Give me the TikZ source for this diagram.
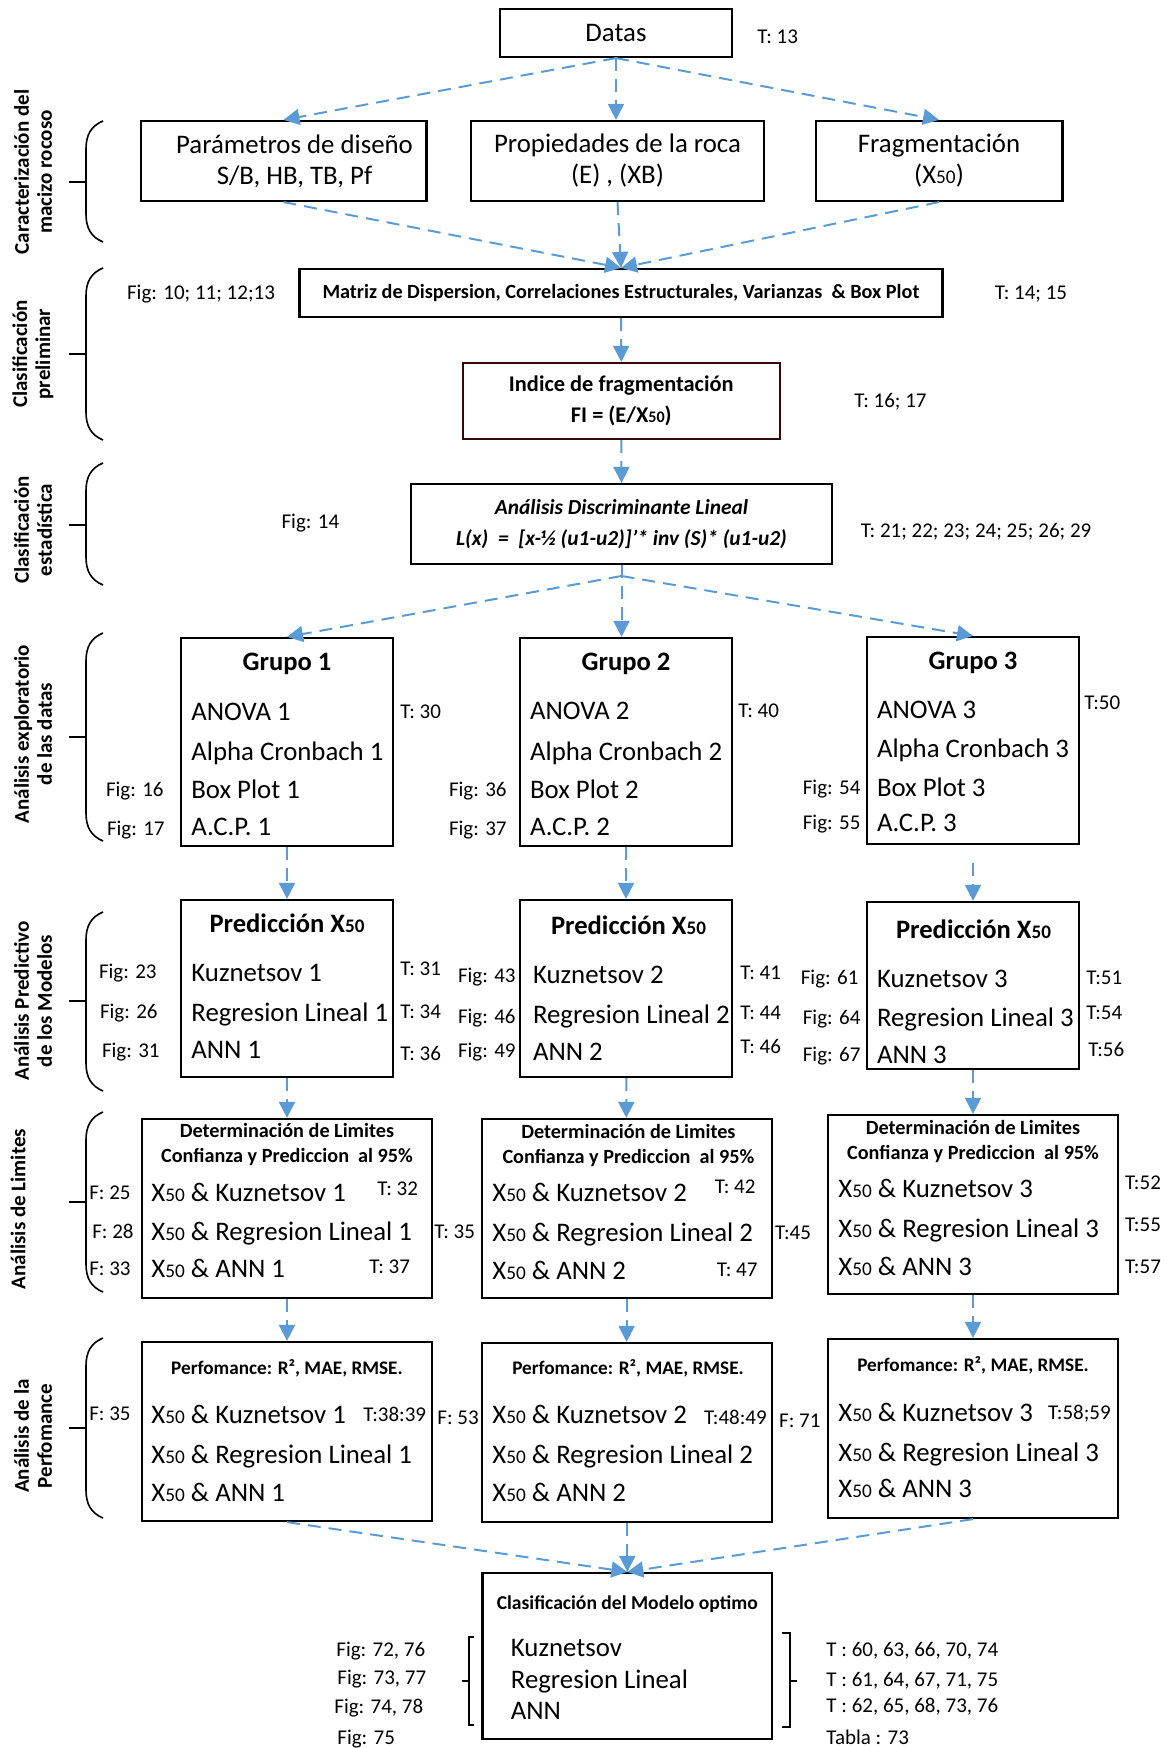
\documentclass[tikz,border=0pt]{standalone}
\usepackage{fontspec}
\setmainfont{Carlito}
\usepackage{graphicx}
\usepackage{tikz}
\usetikzlibrary{arrows.meta}
\definecolor{flecha}{RGB}{91,155,213}
\definecolor{borde}{RGB}{50,8,8}
\newcommand{\Xc}{X\scalebox{0.72}{50}}

\begin{document}
\begin{tikzpicture}[
  x=0.5pt, y=-0.5pt,
  >={Triangle[length=8pt,width=8pt]},
  caja/.style={draw, line width=1.1pt, inner sep=0pt, align=center, font=\fontsize{13.4}{15.5}\selectfont},
  titulo/.style={inner sep=0pt, font=\bfseries\fontsize{13.3}{16}\selectfont, text height=10.4pt, text depth=1.9pt},
  subtit/.style={inner sep=0pt, align=center, font=\bfseries\fontsize{10.1}{12.5}\selectfont},
  linea/.style={anchor=west, inner sep=0pt, font=\fontsize{13.4}{16}\selectfont, text height=10.5pt, text depth=1.9pt},
  nota/.style={inner sep=0pt, font=\fontsize{10.5}{12.6}\selectfont, text height=8.2pt, text depth=1.5pt},
  fase/.style={rotate=90, inner sep=0pt, align=center, font=\bfseries\fontsize{10.5}{11.5}\selectfont},
  flujo/.style={->, draw=flecha, line width=1pt, dash pattern=on 6.5pt off 4pt},
  llave/.style={line width=0.8pt}
]
\useasboundingbox (0,0) rectangle (1173,1748);

% entrada y caracterizacion
\node[caja, minimum width=116.3pt, minimum height=24pt] (datas) at (616,33) {Datas};
\node[caja, minimum width=142.9pt, minimum height=40pt] (param) at (283.5,161) {};
\node[align=center, inner sep=0pt, font=\fontsize{13.4}{15.5}\selectfont] (paramtxt) at (294.5,161) {Parámetros de diseño\\S/B, HB, TB, Pf};
\node[caja, minimum width=146.2pt, minimum height=40pt] (props) at (617.5,161) {Propiedades de la roca\\(E) , (XB)};
\node[caja, minimum width=123.4pt, minimum height=40pt] (frag) at (939,161) {Fragmentación\\(\Xc)};
\node[caja, minimum width=321.5pt, minimum height=24pt, font=\bfseries\fontsize{10.1}{12}\selectfont] (matriz) at (621,293) {Matriz de Dispersion, Correlaciones Estructurales, Varianzas~ \& Box Plot};
\node[caja, draw=borde, minimum width=158.7pt, minimum height=38pt, font=\bfseries\fontsize{11.2}{15.5}\selectfont] (indice) at (621.3,401) {Indice de fragmentación\\FI = (E/\Xc)};
\node[caja, minimum width=210.5pt, minimum height=40pt, font=\bfseries\itshape\fontsize{10.7}{15.5}\selectfont] (lda) at (621.5,524) {Análisis Discriminante Lineal\\L(x)~ =~ [x-½ (u1-u2)]’* inv (S)* (u1-u2)};
\coordinate (reparto) at (621.5,576);

\node[nota, anchor=west] (t13) at (757,37) {T: 13};
\node[nota] (figmat) at (201,293) {Fig: 10; 11; 12;13};
\node[nota] (tmat) at (1031,293) {T: 14; 15};
\node[nota] (tind) at (890.5,401) {T: 16; 17};
\node[nota] (figlda) at (310.4,522) {Fig: 14};
\node[nota] (tlda) at (976,531) {T: 21; 22; 23; 24; 25; 26; 29};

% grupos
\node[caja, minimum width=106pt, minimum height=104pt] (g1) at (287,742) {};
\node[caja, minimum width=106.3pt, minimum height=104pt] (g2) at (626,742) {};
\node[caja, minimum width=106.3pt, minimum height=103.5pt] (g3) at (973,740.5) {};
\node[titulo] (g1t) at (287,662) {Grupo 1};
\node[titulo] (g2t) at (626,662) {Grupo 2};
\node[titulo] (g3t) at (973,661) {Grupo 3};
\node[linea] (g1a) at (191,712) {ANOVA 1};
\node[linea] (g1b) at (191,752) {Alpha Cronbach 1};
\node[linea] (g1c) at (191,790) {Box Plot 1};
\node[linea] (g1d) at (191,827) {A.C.P. 1};
\node[linea] (g2a) at (529.7,711) {ANOVA 2};
\node[linea] (g2b) at (529.7,752) {Alpha Cronbach 2};
\node[linea] (g2c) at (529.7,790) {Box Plot 2};
\node[linea] (g2d) at (529.7,827) {A.C.P. 2};
\node[linea] (g3a) at (876.6,710) {ANOVA 3};
\node[linea] (g3b) at (876.6,749) {Alpha Cronbach 3};
\node[linea] (g3c) at (876.6,788) {Box Plot 3};
\node[linea] (g3d) at (876.6,823) {A.C.P. 3};
\node[nota, anchor=west] (t30) at (400,712) {T: 30};
\node[nota, anchor=west] (t40) at (738,711) {T: 40};
\node[nota, anchor=west] (t50) at (1084,703) {T:50};
\node[nota, anchor=east] (f16) at (164,790) {Fig: 16};
\node[nota, anchor=east] (f17) at (165,829) {Fig: 17};
\node[nota, anchor=east] (f36) at (507,790) {Fig: 36};
\node[nota, anchor=east] (f37) at (507,829) {Fig: 37};
\node[nota, anchor=east] (f54) at (860.8,788) {Fig: 54};
\node[nota, anchor=east] (f55) at (860.8,823) {Fig: 55};

% prediccion
\node[caja, minimum width=106pt, minimum height=88.5pt] (p1) at (287,988.5) {};
\node[caja, minimum width=106.3pt, minimum height=88.5pt] (p2) at (626,988.5) {};
\node[caja, minimum width=106.3pt, minimum height=83.5pt] (p3) at (973,985.5) {};
\node[titulo] (p1t) at (287,924) {Predicción \Xc};
\node[titulo] (p2t) at (628.5,926) {Predicción \Xc};
\node[titulo] (p3t) at (973.5,930) {Predicción \Xc};
\node[linea] (p1a) at (191,973) {Kuznetsov 1};
\node[linea] (p1b) at (191,1013) {Regresion Lineal 1};
\node[linea] (p1c) at (191,1050) {ANN 1};
\node[linea] (p2a) at (532.6,975) {Kuznetsov 2};
\node[linea] (p2b) at (532.6,1015) {Regresion Lineal 2};
\node[linea] (p2c) at (532.6,1052) {ANN 2};
\node[linea] (p3a) at (876.6,979) {Kuznetsov 3};
\node[linea] (p3b) at (876.6,1018) {Regresion Lineal 3};
\node[linea] (p3c) at (876.6,1055) {ANN 3};
\node[nota, anchor=east] (f23) at (157,972) {Fig: 23};
\node[nota, anchor=east] (f26) at (158,1012) {Fig: 26};
\node[nota, anchor=east] (f31) at (160,1051) {Fig: 31};
\node[nota, anchor=west] (t31) at (400,969) {T: 31};
\node[nota, anchor=west] (t34) at (400,1012) {T: 34};
\node[nota, anchor=west] (t36) at (400,1054) {T: 36};
\node[nota, anchor=east] (f43) at (516,976) {Fig: 43};
\node[nota, anchor=east] (f46) at (516,1017) {Fig: 46};
\node[nota, anchor=east] (f49) at (516,1051) {Fig: 49};
\node[nota, anchor=west] (t41) at (740,973) {T: 41};
\node[nota, anchor=west] (t44) at (740,1013) {T: 44};
\node[nota, anchor=west] (t46) at (740,1047) {T: 46};
\node[nota, anchor=east] (f61) at (858.8,978) {Fig: 61};
\node[nota, anchor=east] (f64) at (860.8,1018) {Fig: 64};
\node[nota, anchor=east] (f67) at (860.8,1055) {Fig: 67};
\node[nota, anchor=west] (t51) at (1086,978) {T:51};
\node[nota, anchor=west] (t54) at (1086,1013) {T:54};
\node[nota, anchor=west] (t56) at (1088,1050) {T:56};

% limites
\node[caja, minimum width=145pt, minimum height=89.5pt] (d1) at (287,1208.5) {};
\node[caja, minimum width=145pt, minimum height=89.5pt] (d2) at (626.6,1208.5) {};
\node[caja, minimum width=144.8pt, minimum height=89.5pt] (d3) at (973,1204.5) {};
\node[subtit] (d1t) at (287,1144.5) {Determinación de Limites\\Confianza y Prediccion~ al 95\%};
\node[subtit] (d2t) at (628.4,1145) {Determinación de Limites\\Confianza y Prediccion~ al 95\%};
\node[subtit] (d3t) at (973,1141) {Determinación de Limites\\Confianza y Prediccion~ al 95\%};
\node[linea] (d1a) at (151,1193) {\Xc{} \& Kuznetsov 1};
\node[linea] (d1b) at (151,1232) {\Xc{} \& Regresion Lineal 1};
\node[linea] (d1c) at (151,1269) {\Xc{} \& ANN 1};
\node[linea] (d2a) at (492,1193) {\Xc{} \& Kuznetsov 2};
\node[linea] (d2b) at (492,1233) {\Xc{} \& Regresion Lineal 2};
\node[linea] (d2c) at (492,1271) {\Xc{} \& ANN 2};
\node[linea] (d3a) at (838,1189) {\Xc{} \& Kuznetsov 3};
\node[linea] (d3b) at (838,1229) {\Xc{} \& Regresion Lineal 3};
\node[linea] (d3c) at (838,1267) {\Xc{} \& ANN 3};
\node[nota, anchor=east] (f25) at (131,1193) {F: 25};
\node[nota, anchor=east] (f28) at (134,1232) {F: 28};
\node[nota, anchor=east] (f33) at (131,1269) {F: 33};
\node[nota, anchor=west] (t32) at (377,1189) {T: 32};
\node[nota, anchor=west] (t37) at (369,1267) {T: 37};
\node[nota, anchor=west] (t35) at (434,1232) {T: 35};
\node[nota, anchor=west] (t42) at (714.5,1187) {T: 42};
\node[nota, anchor=west] (t45) at (774.8,1233) {T:45};
\node[nota, anchor=west] (t47) at (716.5,1270) {T: 47};
\node[nota, anchor=west] (t52) at (1124.7,1183) {T:52};
\node[nota, anchor=west] (t55) at (1124.7,1225) {T:55};
\node[nota, anchor=west] (t57) at (1124.7,1267) {T:57};

% perfomance
\node[caja, minimum width=145pt, minimum height=89.5pt] (e1) at (287,1431.5) {};
\node[caja, minimum width=145pt, minimum height=89.5pt] (e2) at (626.6,1432.5) {};
\node[caja, minimum width=144.8pt, minimum height=89.5pt] (e3) at (973,1428.5) {};
\node[subtit, font=\bfseries\fontsize{9.6}{12}\selectfont, text height=7.8pt, text depth=1.6pt] (e1t) at (287,1368) {Perfomance: R², MAE, RMSE.};
\node[subtit, font=\bfseries\fontsize{9.6}{12}\selectfont, text height=7.8pt, text depth=1.6pt] (e2t) at (628,1368) {Perfomance: R², MAE, RMSE.};
\node[subtit, font=\bfseries\fontsize{9.6}{12}\selectfont, text height=7.8pt, text depth=1.6pt] (e3t) at (973,1365) {Perfomance: R², MAE, RMSE.};
\node[linea] (e1a) at (151,1415) {\Xc{} \& Kuznetsov 1};
\node[linea] (e1b) at (151,1455) {\Xc{} \& Regresion Lineal 1};
\node[linea] (e1c) at (151,1493) {\Xc{} \& ANN 1};
\node[linea] (e2a) at (492,1415) {\Xc{} \& Kuznetsov 2};
\node[linea] (e2b) at (492,1455) {\Xc{} \& Regresion Lineal 2};
\node[linea] (e2c) at (492,1493) {\Xc{} \& ANN 2};
\node[linea] (e3a) at (838,1413) {\Xc{} \& Kuznetsov 3};
\node[linea] (e3b) at (838,1453) {\Xc{} \& Regresion Lineal 3};
\node[linea] (e3c) at (838,1489) {\Xc{} \& ANN 3};
\node[nota, anchor=east] (f35) at (131,1414) {F: 35};
\node[nota, anchor=west] (t38) at (363,1415) {T:38:39};
\node[nota, anchor=west] (f53) at (437,1418) {F: 53};
\node[nota, anchor=west] (t48) at (703.6,1418) {T:48:49};
\node[nota, anchor=west] (f71) at (778.7,1421) {F: 71};
\node[nota, anchor=west] (t58) at (1047.6,1413) {T:58;59};

% modelo optimo
\node[caja, minimum width=144.8pt, minimum height=83pt] (optimo) at (627.3,1656) {};
\node[subtit, font=\bfseries\fontsize{9.8}{12}\selectfont, text height=7.9pt, text depth=1.6pt] (optt) at (627.3,1603) {Clasificación del Modelo optimo};
\node[linea] (opta) at (510.5,1648) {Kuznetsov};
\node[linea] (optb) at (510.5,1680) {Regresion Lineal};
\node[linea] (optc) at (510.5,1711) {ANN};
\node[nota, anchor=west] (f72) at (336,1650) {Fig: 72, 76};
\node[nota, anchor=west] (f73) at (337,1678) {Fig: 73, 77};
\node[nota, anchor=west] (f74) at (334,1707) {Fig: 74, 78};
\node[nota, anchor=west] (f75) at (337,1738) {Fig: 75};
\node[nota, anchor=west] (t60) at (826,1650) {T : 60, 63, 66, 70, 74};
\node[nota, anchor=west] (t61) at (826,1680) {T : 61, 64, 67, 71, 75};
\node[nota, anchor=west] (t62) at (826,1706) {T : 62, 65, 68, 73, 76};
\node[nota, anchor=west] (tabla) at (826,1738) {Tabla : 73};
\draw[llave] (474,1637) -- (469,1637) -- (469,1725) -- (474,1725) (462,1681) -- (469,1681);
\draw[llave] (782,1633) -- (790,1633) -- (790,1727) -- (782,1727) (790,1681) -- (797,1681);

% fases
\foreach \ya/\yb/\ym in {121/242/182, 268/440/354, 463/585/525, 633/841/737, 912/1091/1001, 1112/1292/1202, 1338/1518/1428}
  \draw[llave] (103,\ya) .. controls (91,\ya+5) and (86,\ya+14) .. (86,\ya+28) -- (86,\yb-28) .. controls (86,\yb-14) and (91,\yb-5) .. (103,\yb) (69,\ym) -- (86,\ym);
\node[fase] (fase1) at (33,172) {Caracterización del\\macizo rocoso};
\node[fase] (fase2) at (33,354) {Clasificación\\preliminar};
\node[fase] (fase3) at (33,530) {Clasificación\\estadística};
\node[fase] (fase4) at (33,734) {Análisis exploratorio\\de las datas};
\node[fase] (fase5) at (33,1001) {Análisis Predictivo\\de los Modelos};
\node[fase] (fase6) at (18,1209) {Análisis de Limites};
\node[fase] (fase7) at (33,1436) {Análisis de la\\Perfomance};

% flechas
\draw[flujo] (datas.south) -- (param.north);
\draw[flujo] (datas.south) -- (datas.south |- props.north);
\draw[flujo] (datas.south) -- (frag.north);
\draw[flujo] (param.south) -- (matriz.north);
\draw[flujo] (props.south) -- (matriz.north);
\draw[flujo] (frag.south) -- (matriz.north);
\draw[flujo] (matriz.south) -- (indice.north);
\draw[flujo] (indice.south) -- (lda.north);
\draw[flujo] (lda.south) -- (lda.south |- g2.north);
\draw[flujo] (reparto) -- (g1.north);
\draw[flujo] (reparto) -- (g3.north);
\draw[flujo] (g1) -- (p1);
\draw[flujo] (g2) -- (p2);
\draw[flujo, shorten <=9pt] (g3) -- (p3);
\draw[flujo] (p1) -- (d1);
\draw[flujo] (p2) -- (d2);
\draw[flujo] (p3) -- (d3);
\draw[flujo] (d1) -- (e1);
\draw[flujo] (d2) -- (e2);
\draw[flujo] (d3) -- (e3);
\draw[flujo] (e1.south) -- (optimo.north);
\draw[flujo] (optimo.north |- e2.south) -- (optimo.north);
\draw[flujo] (e3.south) -- (optimo.north);

\end{tikzpicture}
\end{document}
